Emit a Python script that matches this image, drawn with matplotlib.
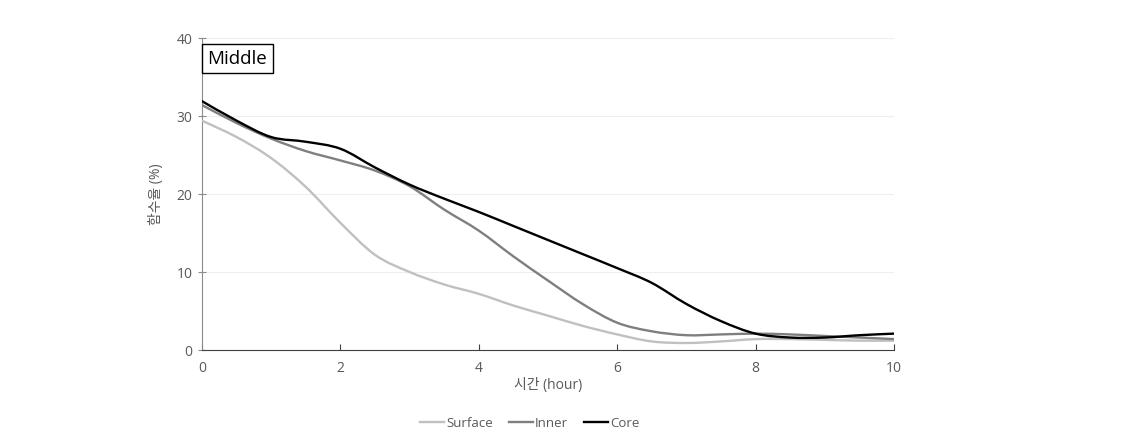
import numpy as np
import matplotlib.pyplot as plt
from matplotlib.path import Path
from matplotlib.patches import PathPatch
from matplotlib.lines import Line2D

plt.rcParams['font.family'] = ['Open Sans', 'Noto Sans CJK KR', 'DejaVu Sans']

# 시간 (hour)
hours = [0, 0.5, 1, 1.5, 2, 2.5, 3, 3.5, 4, 4.5, 5,
         5.5, 6, 6.5, 7, 7.5, 8, 8.5, 9, 9.5, 10]

surface = [29.4, 27.3, 24.6, 20.9, 16.3, 12.2, 10.0, 8.4, 7.2, 5.7, 4.4,
           3.1, 2.0, 1.1, 0.9, 1.1, 1.4, 1.4, 1.3, 1.2, 1.2]
inner = [31.4, 29.1, 27.1, 25.5, 24.3, 23.0, 21.0, 18.0, 15.3, 12.0, 8.9,
         5.9, 3.5, 2.4, 1.9, 2.0, 2.1, 2.0, 1.8, 1.6, 1.4]
core = [31.9, 29.4, 27.3, 26.7, 25.8, 23.4, 21.2, 19.4, 17.7, 15.9, 14.1,
        12.3, 10.5, 8.6, 5.9, 3.7, 2.1, 1.6, 1.6, 1.9, 2.1]

series_names = ['Surface', 'Inner', 'Core']
colors = ['#c0c0c0', '#7f7f7f', '#000000']


# 엑셀 "부드러운 선"처럼 점들을 베지어 곡선으로 잇기
def smooth_path(x, y):
    p = np.column_stack([x, y]).astype(float)
    p_ext = np.vstack([p[0], p, p[-1]])
    verts = [p[0]]
    codes = [Path.MOVETO]
    for i in range(1, len(p_ext) - 2):
        c1 = p_ext[i] + (p_ext[i + 1] - p_ext[i - 1]) / 6
        c2 = p_ext[i + 1] - (p_ext[i + 2] - p_ext[i]) / 6
        verts += [c1, c2, p_ext[i + 1]]
        codes += [Path.CURVE4] * 3
    return Path(verts, codes)


fig = plt.figure(figsize=(11.25, 4.41), dpi=100)
ax = fig.add_axes([0.1796, 0.2063, 0.6151, 0.7075])

handles = []
for vals, name, c in zip([surface, inner, core], series_names, colors):
    ax.add_patch(PathPatch(smooth_path(hours, vals), fill=False, ec=c, lw=1.7,
                           capstyle='round', zorder=3))
    handles.append(Line2D([], [], color=c, lw=1.7, label=name))

ax.set_xlim(0, 10)
ax.set_ylim(0, 40)
ax.set_xticks([0, 2, 4, 6, 8, 10])
ax.set_yticks([0, 10, 20, 30, 40])
ax.grid(axis='y', color='#eeeeee', lw=0.8)
ax.set_axisbelow(True)

for s in ['top', 'right']:
    ax.spines[s].set_visible(False)
ax.spines['left'].set_color('#8c8c8c')
ax.spines['bottom'].set_color('#404040')
ax.tick_params(axis='y', direction='inout', length=6, color='#8c8c8c',
               labelcolor='#595959', labelsize=10, pad=4)
ax.tick_params(axis='x', direction='in', length=4, color='#404040',
               labelcolor='#595959', labelsize=10, pad=8)

ax.set_xlabel('시간 (hour)', fontsize=10, color='#595959', labelpad=1)
ax.set_ylabel('함수율 (%)', fontsize=10, color='#595959', labelpad=9)

ax.text(0.008, 0.963, 'Middle', transform=ax.transAxes, fontsize=13.5,
        ha='left', va='top', color='black',
        bbox=dict(boxstyle='square,pad=0.3', fc='white', ec='black', lw=1))

fig.legend(handles=handles, loc='center', bbox_to_anchor=(0.471, 0.04), ncol=3,
           frameon=False, fontsize=9.5, handlelength=1.8, handletextpad=0.2,
           columnspacing=1.2, labelcolor='#595959')

fig.savefig('out.png', dpi=100)
